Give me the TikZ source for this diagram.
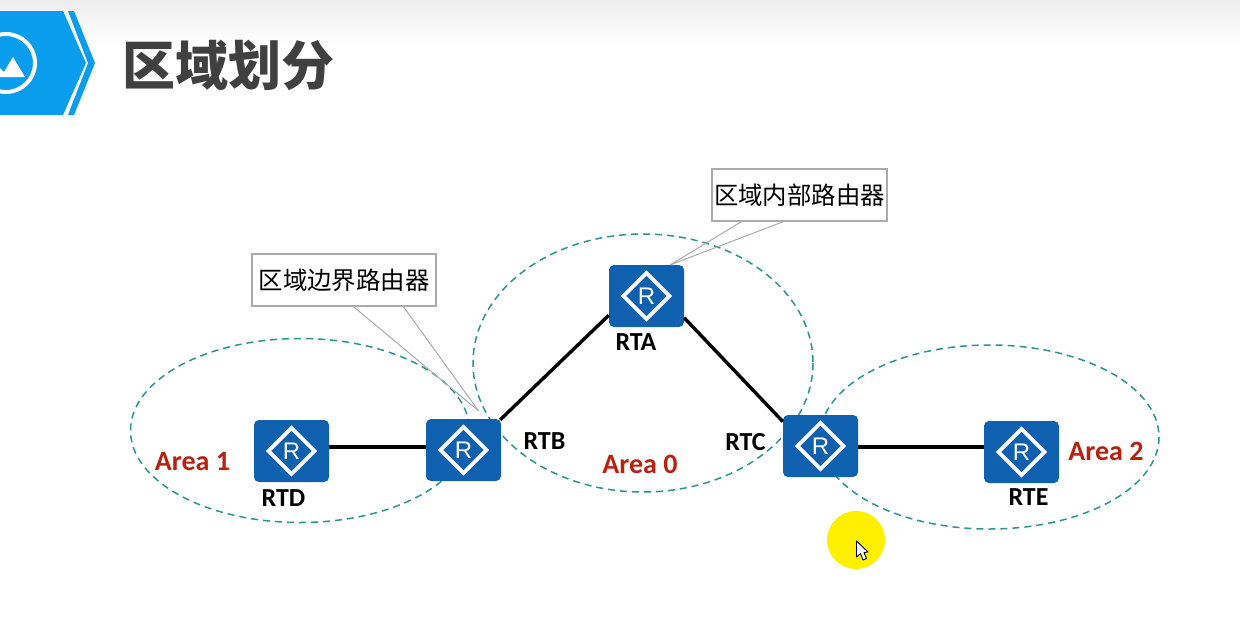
\documentclass[tikz,border=0pt]{standalone}
\usepackage{fontspec}
\setmainfont{Carlito}
\newfontfamily\cjk{Noto Sans CJK SC}
\newfontfamily\rfont{Liberation Sans}
\usetikzlibrary{calc}
\definecolor{routerblue}{HTML}{0F60AE}
\definecolor{headblue}{HTML}{0A9DEE}
\definecolor{areared}{HTML}{B8200F}
\definecolor{areateal}{HTML}{2A9490}
\definecolor{titlegray}{HTML}{404040}
\definecolor{tailgray}{HTML}{ABABAB}
\tikzset{
  router/.style={draw=none,fill=routerblue,rounded corners=5pt,minimum width=75pt,minimum height=62pt,inner sep=0pt,
    text=white,font=\rfont\fontsize{24}{24}\selectfont,
    path picture={\draw[sharp corners,white,line width=3.8pt,miter limit=10]
      ($(path picture bounding box.center)+(-23,0)$)--($(path picture bounding box.center)+(0,23)$)--($(path picture bounding box.center)+(23,0)$)--($(path picture bounding box.center)+(0,-23)$)--cycle;}},
  area/.style={draw=areateal,line width=1.5pt,dash pattern=on 7pt off 5pt},
  link/.style={draw=black,line width=3.4pt},
  callout/.style={draw=tailgray,line width=1.2pt,fill=white,inner sep=0pt,font=\cjk\fontsize{24.4}{24.4}\selectfont},
  tail/.style={draw=tailgray,line width=1pt},
  rname/.style={inner sep=0pt,font=\bfseries\fontsize{26}{26}\selectfont},
  arealabel/.style={inner sep=0pt,text=areared,font=\bfseries\fontsize{28}{28}\selectfont}
}
\begin{document}
\begin{tikzpicture}[x=1pt,y=-1pt]
\useasboundingbox (0,0) rectangle (1240,619);
\fill[white] (0,0) rectangle (1240,619);
\shade[top color=black!7,bottom color=white] (0,0) rectangle (1240,45);
% header icon
\fill[headblue] (0,11)--(63,11)--(86,63)--(63,115)--(0,115)--cycle;
\fill[headblue] (68,11)--(74,11)--(95,63)--(74,115)--(68,115)--(88,63)--cycle;
\begin{scope}
\clip (0,0) rectangle (100,120);
\draw[white,line width=4pt] (6,63) circle[radius=29];
\fill[white] (-6,77)--(0,68)--(4,72)--(13,57)--(25,77)--cycle;
\end{scope}
\node[inner sep=0pt,anchor=west,text=titlegray,font=\cjk\bfseries\fontsize{53}{53}\selectfont] (title) at (122.5,65) {区域划分};
% areas
\draw[area] (300,430.5) ellipse[x radius=169.5,y radius=92];
\draw[area] (643,363) ellipse[x radius=170,y radius=129];
\draw[area] (989.5,437) ellipse[x radius=169.5,y radius=92];
% callouts
\node[callout,minimum width=184pt,minimum height=52pt] (cb) at (344,280) {区域边界路由器};
\node[callout,minimum width=175pt,minimum height=52pt] (ci) at (799.5,195) {区域内部路由器};
% routers
\node[router] (rta) at (646.5,296) {R};
\node[router] (rtd) at (291.5,451) {R};
\node[router] (rtb) at (463.5,450) {R};
\node[router] (rtc) at (820.5,446) {R};
\node[router] (rte) at (1021.5,452) {R};
% callout tails
\coordinate (cbl) at ($(cb.south west)+(102,0)$);
\coordinate (cbr) at ($(cb.south west)+(152,0)$);
\coordinate (cil) at ($(ci.south west)+(30,0)$);
\coordinate (cir) at ($(ci.south west)+(72,0)$);
\coordinate (tipb) at ($(rtb.north)+(15,-8)$);
\coordinate (tipa) at ($(rta.north)+(24,0)$);
\draw[tail] (cbl)--(tipb);
\draw[tail] (cbr)--(tipb);
\draw[tail] (cil)--(tipa);
\draw[tail] (cir)--(tipa);
% links
\coordinate (lowline) at (640,447);
\draw[link] (rtd.east|-lowline)--(rtb.west|-lowline);
\draw[link] ($(rtb.north east)+(-1,1)$)--(rta.207);
\draw[link] (rta.-30)--(rtc.147);
\draw[link] (rtc.east|-lowline)--(rte.west|-lowline);
% labels
\node[rname] (la) at (636,342.5) {RTA};
\node[rname] (lb) at (544.5,441) {RTB};
\node[rname] (lc) at (745.5,442) {RTC};
\node[rname] (ld) at (283.5,498) {RTD};
\node[rname] (le) at (1028.5,497) {RTE};
\node[arealabel] (a1) at (192.5,461.5) {Area 1};
\node[arealabel] (a0) at (640,464) {Area 0};
\node[arealabel] (a2) at (1106,451.5) {Area 2};
% pointer
\fill[yellow!97!orange] (856,540) circle[radius=29];
\draw[black,fill=white,line width=.9pt,line join=round] (856.5,541)--(856.5,557)--(860.5,553.5)--(863,560)--(866.5,558.5)--(864,552.5)--(868,552)--cycle;
\end{tikzpicture}
\end{document}
